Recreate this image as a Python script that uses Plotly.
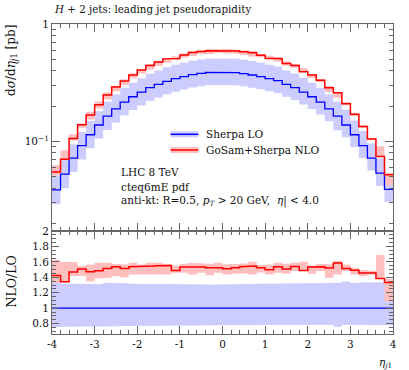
import plotly.graph_objects as go

# ---------------- data ----------------
eta_lo_edge = -4.0
bin_width = 0.2
n_bins = 40
eta_edges = [round(eta_lo_edge + bin_width * i, 3) for i in range(n_bins + 1)]

# Sherpa LO central value, dsigma/deta_j1 [pb]
lo = [0.0386, 0.0526, 0.0721, 0.0919, 0.114, 0.138, 0.164, 0.189, 0.216, 0.240,
      0.263, 0.287, 0.306, 0.325, 0.342, 0.356, 0.371, 0.380, 0.388, 0.390,
      0.390, 0.386, 0.378, 0.368, 0.356, 0.342, 0.329, 0.306, 0.287, 0.263,
      0.240, 0.216, 0.189, 0.164, 0.138, 0.114, 0.092, 0.072, 0.0537, 0.0391]

# LO scale band relative to LO central
lo_up = [1.329, 1.316, 1.312, 1.310, 1.310, 1.312, 1.329, 1.325, 1.322, 1.316,
         1.314, 1.316, 1.312, 1.316, 1.314, 1.316, 1.312, 1.310, 1.308, 1.306,
         1.305, 1.310, 1.312, 1.314, 1.316, 1.316, 1.318, 1.316, 1.320, 1.322,
         1.318, 1.320, 1.325, 1.329, 1.346, 1.325, 1.335, 1.333, 1.333, 1.320]
lo_dn = [0.755, 0.758, 0.762, 0.764, 0.766, 0.766, 0.764, 0.766, 0.768, 0.770,
         0.770, 0.772, 0.772, 0.774, 0.774, 0.776, 0.776, 0.776, 0.778, 0.778,
         0.778, 0.780, 0.780, 0.780, 0.782, 0.782, 0.782, 0.784, 0.784, 0.784,
         0.786, 0.786, 0.786, 0.760, 0.786, 0.786, 0.786, 0.784, 0.782, 0.780]

# NLO / LO ratio (central) and NLO band edges relative to LO central
ratio = [1.423, 1.342, 1.467, 1.506, 1.471, 1.485, 1.515, 1.536, 1.515, 1.536,
         1.545, 1.545, 1.549, 1.553, 1.489, 1.532, 1.540, 1.532, 1.523, 1.523,
         1.510, 1.523, 1.536, 1.545, 1.523, 1.497, 1.536, 1.506, 1.541, 1.489,
         1.532, 1.536, 1.519, 1.585, 1.515, 1.492, 1.455, 1.455, 1.385, 1.333]
nlo_up = [1.623, 1.597, 1.597, 1.545, 1.567, 1.588, 1.588, 1.575, 1.567, 1.588,
          1.567, 1.588, 1.588, 1.575, 1.554, 1.575, 1.588, 1.580, 1.575, 1.588,
          1.567, 1.575, 1.580, 1.601, 1.558, 1.567, 1.588, 1.575, 1.588, 1.601,
          1.554, 1.575, 1.567, 1.610, 1.567, 1.525, 1.495, 1.485, 1.690, 1.380]
nlo_dn = [1.329, 1.342, 1.415, 1.420, 1.350, 1.385, 1.394, 1.415, 1.402, 1.437,
          1.437, 1.428, 1.437, 1.437, 1.459, 1.459, 1.437, 1.459, 1.428, 1.459,
          1.437, 1.446, 1.450, 1.437, 1.463, 1.437, 1.459, 1.446, 1.480, 1.480,
          1.446, 1.480, 1.394, 1.437, 1.480, 1.437, 1.415, 1.437, 1.393, 1.090]

main_ytick_vals = [0.1, 1]
main_ytick_text = ["10<sup>\u22121</sup>", "1"]
ratio_ytick_vals = [0.8, 1.0, 1.2, 1.4, 1.6, 1.8, 2.0]
ratio_ytick_text = ["0.8", "1", "1.2", "1.4", "1.6", "1.8", "2"]
x_range = [-4, 4]
x_ticks = [-4, -3, -2, -1, 0, 1, 2, 3, 4]
x_tick_text = ["-4", "-3", "-2", "-1", "0", "1", "2", "3", "4"]

title_text = "<i>H</i> + 2 jets: leading jet pseudorapidity"
legend_names = ["Sherpa LO", "GoSam+Sherpa NLO"]
info_lines = ["LHC 8 TeV", "cteq6mE pdf",
              "anti-kt: R=0.5, <i>p</i><sub><i>T</i></sub> &gt; 20 GeV,  <i>\u03b7</i>| &lt; 4.0"]

# ---------------- styling ----------------
BLUE = "#0000ff"
RED = "#ff0000"
BLUE_BAND = "#ccccff"
RED_BAND = "#ffbfbf"
AXC = "#666666"
FONT = "DejaVu Serif"
FS = 10.5

nlo = [l * r for l, r in zip(lo, ratio)]


def step_xy(vals):
    xs, ys = [], []
    for i, v in enumerate(vals):
        xs += [eta_edges[i], eta_edges[i + 1]]
        ys += [v, v]
    return xs, ys


def band_xy(up, dn):
    xu, yu = step_xy(up)
    xd, yd = step_xy(dn)
    return xu + xd[::-1] + [xu[0]], yu + yd[::-1] + [yu[0]]


fig = go.Figure()

# main panel bands
bx, by = band_xy([l * u for l, u in zip(lo, lo_up)], [l * d for l, d in zip(lo, lo_dn)])
fig.add_trace(go.Scatter(x=bx, y=by, fill="toself", fillcolor=BLUE_BAND, line=dict(width=0),
                         mode="lines", hoverinfo="skip", showlegend=False, xaxis="x", yaxis="y"))
bx, by = band_xy([l * u for l, u in zip(lo, nlo_up)], [l * d for l, d in zip(lo, nlo_dn)])
fig.add_trace(go.Scatter(x=bx, y=by, fill="toself", fillcolor=RED_BAND, line=dict(width=0),
                         mode="lines", hoverinfo="skip", showlegend=False, xaxis="x", yaxis="y"))
sx, sy = step_xy(lo)
fig.add_trace(go.Scatter(x=sx, y=sy, mode="lines", line=dict(color=BLUE, width=1.3),
                         showlegend=False, xaxis="x", yaxis="y"))
sx, sy = step_xy(nlo)
fig.add_trace(go.Scatter(x=sx, y=sy, mode="lines", line=dict(color=RED, width=1.5),
                         showlegend=False, xaxis="x", yaxis="y"))

# ratio panel
bx, by = band_xy(lo_up, lo_dn)
fig.add_trace(go.Scatter(x=bx, y=by, fill="toself", fillcolor=BLUE_BAND, line=dict(width=0),
                         mode="lines", hoverinfo="skip", showlegend=False, xaxis="x2", yaxis="y2"))
bx, by = band_xy(nlo_up, nlo_dn)
fig.add_trace(go.Scatter(x=bx, y=by, fill="toself", fillcolor=RED_BAND, line=dict(width=0),
                         mode="lines", hoverinfo="skip", showlegend=False, xaxis="x2", yaxis="y2"))
sx, sy = step_xy([1.0] * n_bins)
fig.add_trace(go.Scatter(x=sx, y=sy, mode="lines", line=dict(color=BLUE, width=1.3),
                         showlegend=False, xaxis="x2", yaxis="y2"))
sx, sy = step_xy(ratio)
fig.add_trace(go.Scatter(x=sx, y=sy, mode="lines", line=dict(color=RED, width=1.5),
                         showlegend=False, xaxis="x2", yaxis="y2"))

# ---------------- layout ----------------
W, H = 409, 370
ML, MR, MT, MB = 52, 12, 24, 36
PW, PH = W - ML - MR, H - MT - MB
split = (334 - 231) / PH


def px(xp):
    return (xp - ML) / PW


def py(yp):
    return (H - MB - yp) / PH


common_x = dict(range=x_range, showgrid=False, zeroline=False, showline=True, linecolor=AXC,
                linewidth=1, mirror="ticks", ticks="inside", ticklen=8, tickcolor=AXC,
                tickvals=x_ticks, ticktext=x_tick_text,
                minor=dict(ticks="inside", ticklen=4, dtick=0.2, tick0=-4, tickcolor=AXC, showgrid=False))

fig.update_layout(
    width=W, height=H,
    margin=dict(l=ML, r=MR, t=MT, b=MB),
    paper_bgcolor="white", plot_bgcolor="white",
    font=dict(family=FONT, size=FS, color="#111111"),
    showlegend=False,
    xaxis=dict(anchor="y", matches="x2", showticklabels=False, **common_x),
    xaxis2=dict(anchor="y2", showticklabels=True, **common_x),
    yaxis=dict(type="log", domain=[split, 1], range=[-1.763, 0], showgrid=False, zeroline=False,
               showline=True, linecolor=AXC, mirror="ticks", ticks="inside", ticklen=8,
               tickcolor=AXC, tickvals=main_ytick_vals, ticktext=main_ytick_text,
               minor=dict(ticks="inside", ticklen=4, dtick="D1", tickcolor=AXC, showgrid=False)),
    yaxis2=dict(domain=[0, split], range=[0.665, 2.0], showgrid=False, zeroline=False,
                showline=True, linecolor=AXC, mirror="ticks", ticks="inside", ticklen=7,
                tickcolor=AXC, tickvals=ratio_ytick_vals, ticktext=ratio_ytick_text,
                minor=dict(ticks="inside", ticklen=4, dtick=0.05, tick0=0, tickcolor=AXC, showgrid=False)),
)

ann = []
ann.append(dict(text=title_text, x=px(52), y=py(9.5), xref="paper", yref="paper",
                xanchor="left", yanchor="middle", showarrow=False, font=dict(size=10.3)))
ann.append(dict(text="d<i>\u03c3</i>/d<i>\u03b7</i><sub><i>j</i>1</sub> [pb]", textangle=-90,
                x=px(11), y=py(23), xref="paper", yref="paper", xanchor="center", yanchor="top",
                showarrow=False, font=dict(size=12)))
ann.append(dict(text="NLO/LO", textangle=-90, x=px(11), y=py(281), xref="paper", yref="paper",
                xanchor="center", yanchor="middle", showarrow=False, font=dict(size=12.5)))
ann.append(dict(text="<i>\u03b7</i><sub><i>j</i>1</sub>", x=px(398), y=py(363), xref="paper",
                yref="paper", xanchor="right", yanchor="middle", showarrow=False))
for name, yy in zip(legend_names, [134.3, 150]):
    ann.append(dict(text=name, x=px(206), y=py(yy), xref="paper", yref="paper",
                    xanchor="left", yanchor="middle", showarrow=False))
for line, yy in zip(info_lines, [171.7, 186.7, 201.5]):
    ann.append(dict(text=line, x=px(120), y=py(yy), xref="paper", yref="paper",
                    xanchor="left", yanchor="middle", showarrow=False))
fig.update_layout(annotations=ann)

shapes = []
for col, band, yy in [(BLUE, BLUE_BAND, 134.3), (RED, RED_BAND, 150)]:
    shapes.append(dict(type="line", xref="paper", yref="paper", x0=px(172), x1=px(200),
                       y0=py(yy), y1=py(yy), line=dict(color=band, width=6)))
    shapes.append(dict(type="line", xref="paper", yref="paper", x0=px(172), x1=px(200),
                       y0=py(yy), y1=py(yy), line=dict(color=col, width=1.5)))
fig.update_layout(shapes=shapes)

fig.write_html("out.html", config={"displayModeBar": False},
               post_script="document.body.style.margin='0px';document.body.style.padding='0px';")
